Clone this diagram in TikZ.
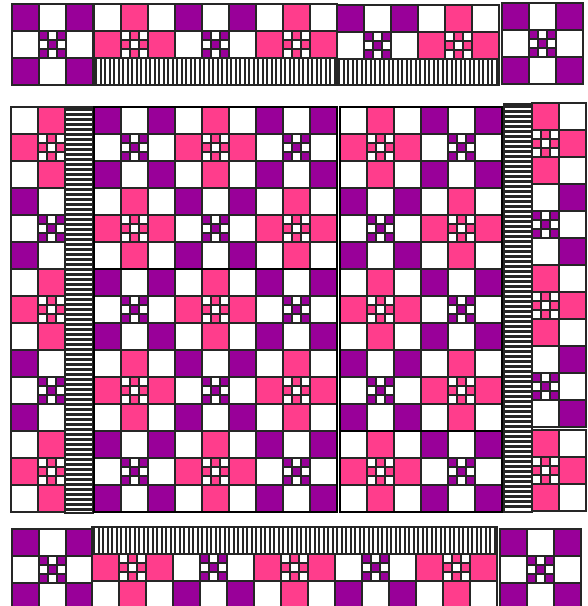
\documentclass[tikz,border=0pt]{standalone}
\definecolor{qa}{RGB}{153,0,153}
\definecolor{qb}{RGB}{255,61,140}
\tikzset{
  cellline/.style={draw=black!85, line width=1.3pt},
  seam/.style={draw=black, line width=2.2pt},
  stripebar/.style={draw=black!85, line width=2.4pt},
  hstripebar/.style={draw=black!85, line width=2.7pt},
  stripeframe/.style={draw=black!85, line width=1.3pt, fill=white}
}
\newcommand\setcol[2]{\ifodd\numexpr#1\relax\def\cc{white}\else\ifnum#2=0 \def\cc{qa}\else\def\cc{qb}\fi\fi}
\newcommand\plaincell[5]{\setcol{#4}{#5}\draw[cellline,fill=\cc] ({#1},{#2}) rectangle ++(#3,#3);}
\newcommand\ninepatch[3]{\foreach \qi in {0,1,2}{\foreach \qj in {0,1,2}{\plaincell{#1+9*\qj}{#2+9*\qi}{9}{\qi+\qj+#3}{#3}}}}
\newcommand\qblock[5]{%
  \foreach \qr in {#4}{\foreach \qc in {#5}{%
    \ifnum\numexpr\qr*10+\qc\relax=11
      \ninepatch{#1+27*\qc}{#2+27*\qr}{#3}%
    \else
      \plaincell{#1+27*\qc}{#2+27*\qr}{27}{\qr+\qc+#3}{#3}%
    \fi}}}
\newcommand\vstripes[4]{%
  \draw[stripeframe] (#1,#2) rectangle (#3,#4);
  \pgfmathtruncatemacro\nb{(#3-#1)/4.5-1}
  \foreach \k in {0,...,\nb}{\draw[stripebar] ({#1+2.25+4.5*\k},#2) -- ({#1+2.25+4.5*\k},#4);}
  \draw[cellline] (#1,#2) rectangle (#3,#4);}
\newcommand\hstripes[4]{%
  \draw[stripeframe] (#1,#2) rectangle (#3,#4);
  \pgfmathtruncatemacro\nb{(#4-#2)/5-1}
  \foreach \k in {0,...,\nb}{\draw[hstripebar] (#1,{#2+2.5+5*\k}) -- (#3,{#2+2.5+5*\k});}
  \draw[cellline] (#1,#2) rectangle (#3,#4);}
\begin{document}
\begin{tikzpicture}[x=1pt,y=-1pt]
\clip (0,0) rectangle (588,606);
\fill[white] (0,0) rectangle (588,606);
% corners
\qblock{12}{4}{0}{0,1,2}{0,1,2}
\qblock{502}{3}{0}{0,1,2}{0,1,2}
\qblock{12}{529}{0}{0,1,2}{0,1,2}
\qblock{500}{529}{0}{0,1,2}{0,1,2}
% top border
\qblock{94}{4}{1}{0,1}{0,1,2}
\qblock{175}{4}{0}{0,1}{0,1,2}
\qblock{256}{4}{1}{0,1}{0,1,2}
\qblock{337}{5}{0}{0,1}{0,1,2}
\qblock{418}{5}{1}{0,1}{0,1,2}
\vstripes{94}{58}{337}{85}
\vstripes{337}{59}{499}{85}
% bottom border
\qblock{92}{527}{1}{1,2}{0,1,2}
\qblock{173}{527}{0}{1,2}{0,1,2}
\qblock{254}{527}{1}{1,2}{0,1,2}
\qblock{335}{527}{0}{1,2}{0,1,2}
\qblock{416}{527}{1}{1,2}{0,1,2}
\vstripes{92}{527}{497}{554}
% left border
\foreach \R/\qt in {0/1,1/0,2/1,3/0,4/1}{\qblock{11}{107+81*\R}{\qt}{0,1,2}{0,1}}
\hstripes{65}{107}{93}{513}
% right border
\foreach \Y/\qt in {103/1,184/0,265/1,346/0,430/1}{\qblock{505}{\Y}{\qt}{0,1,2}{1,2}}
\hstripes{504}{104}{532}{512}
% center left piece
\foreach \R in {0,...,4}{\foreach \C in {0,1,2}{%
  \pgfmathtruncatemacro\qt{mod(\R+\C,2)}%
  \qblock{94+81*\C}{107+81*\R}{\qt}{0,1,2}{0,1,2}}}
% center right piece
\foreach \R in {0,...,4}{\foreach \C in {0,1}{%
  \pgfmathtruncatemacro\qt{mod(\R+\C+1,2)}%
  \qblock{340+81*\C}{107+81*\R}{\qt}{0,1,2}{0,1,2}}}
\draw[seam] (94,107) rectangle (337,512);
\draw[seam] (94,269) -- (337,269);
\draw[seam] (340,107) rectangle (502,512);
\draw[seam] (340,431) -- (502,431);
\end{tikzpicture}
\end{document}
